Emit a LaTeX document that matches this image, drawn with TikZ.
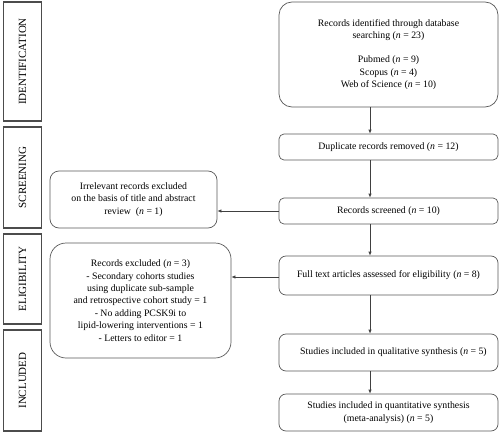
\documentclass[tikz,border=0pt]{standalone}
\usepackage{fontspec}
\setmainfont{Liberation Serif}
\usetikzlibrary{arrows.meta}

\tikzset{
  stagebox/.style={draw=black!70, line width=1.1pt, rotate=90, minimum height=38pt,
    inner sep=0pt, font=\fontsize{11}{13}\selectfont},
  flowbox/.style={draw=black!65, line width=0.7pt, align=center, inner sep=0pt,
    font=\fontsize{9.8}{12.4}\selectfont},
  flowarrow/.style={draw=black!75, line width=0.7pt, -{Latex[length=4pt,width=3.5pt]}}
}

\begin{document}
\begin{tikzpicture}[x=1pt,y=-1pt]
    \useasboundingbox (0,0) rectangle (500,436);

    \node[stagebox, minimum width=119pt] (ident) at (22.5,61.5) {IDENTIFICATION};
    \node[stagebox, minimum width=101pt] (screen) at (22.5,177.5) {SCREENING};
    \node[stagebox, minimum width=90pt] (elig) at (22.5,279) {ELIGIBILITY};
    \node[stagebox, minimum width=101pt] (incl) at (22.5,380.5) {INCLUDED};

    \node[flowbox, rounded corners=13pt, minimum width=219pt, minimum height=105pt] (rec) at (388.5,54.5)
      {Records identified through database\\ searching (\textit{n} = 23)\\[12pt]
       Pubmed (\textit{n} = 9)\\ Scopus (\textit{n} = 4)\\ Web of Science (\textit{n} = 10)};
    \node[flowbox, rounded corners=5pt, minimum width=219pt, minimum height=26pt] (dup) at (388.5,147)
      {Duplicate records removed (\textit{n} = 12)};
    \node[flowbox, rounded corners=5pt, minimum width=219pt, minimum height=26pt] (scr) at (388.5,211)
      {Records screened (\textit{n} = 10)};
    \node[flowbox, rounded corners=7pt, minimum width=219pt, minimum height=39pt] (full) at (388.5,275.5)
      {Full text articles assessed for eligibility (\textit{n} = 8)};
    \node[flowbox, rounded corners=7pt, minimum width=219pt, minimum height=37pt] (qual) at (388.5,352.5)
      {\hspace{10pt}Studies included in qualitative synthesis (\textit{n} = 5)};
    \node[flowbox, rounded corners=7pt, minimum width=219pt, minimum height=37pt] (quant) at (388.5,412.5)
      {Studies included in quantitative synthesis\\ (meta-analysis) (\textit{n} = 5)};

    \node[flowbox, rounded corners=9pt, minimum width=167pt, minimum height=57pt] (irr) at (133.5,199.5)
      {Irrelevant records excluded\\ on the basis of title and abstract\\ review~~(\textit{n} = 1)};
    \node[flowbox, rounded corners=16pt, minimum width=181pt, minimum height=115pt] (excl) at (140.5,300.5)
      {Records excluded (\textit{n} = 3)\\ - Secondary cohorts studies\\ using duplicate sub-sample\\
       and retrospective cohort study = 1\\ - No adding PCSK9i to\\ lipid-lowering interventions = 1\\
       - Letters to editor = 1};

    \coordinate (ax) at (370,0);
    \draw[flowarrow] (rec.south -| ax) -- (dup.north -| ax);
    \draw[flowarrow] (dup.south -| ax) -- (scr.north -| ax);
    \draw[flowarrow] (scr.south -| ax) -- (full.north -| ax);
    \draw[flowarrow] (full.south -| ax) -- (qual.north -| ax);
    \draw[flowarrow] (qual.south -| ax) -- (quant.north -| ax);
    \draw[flowarrow] (scr.west) -- (scr.west -| irr.east);
    \draw[flowarrow] ([yshift=-1.5pt]full.west) -- ([yshift=-1.5pt]full.west -| excl.east);
\end{tikzpicture}
\end{document}
